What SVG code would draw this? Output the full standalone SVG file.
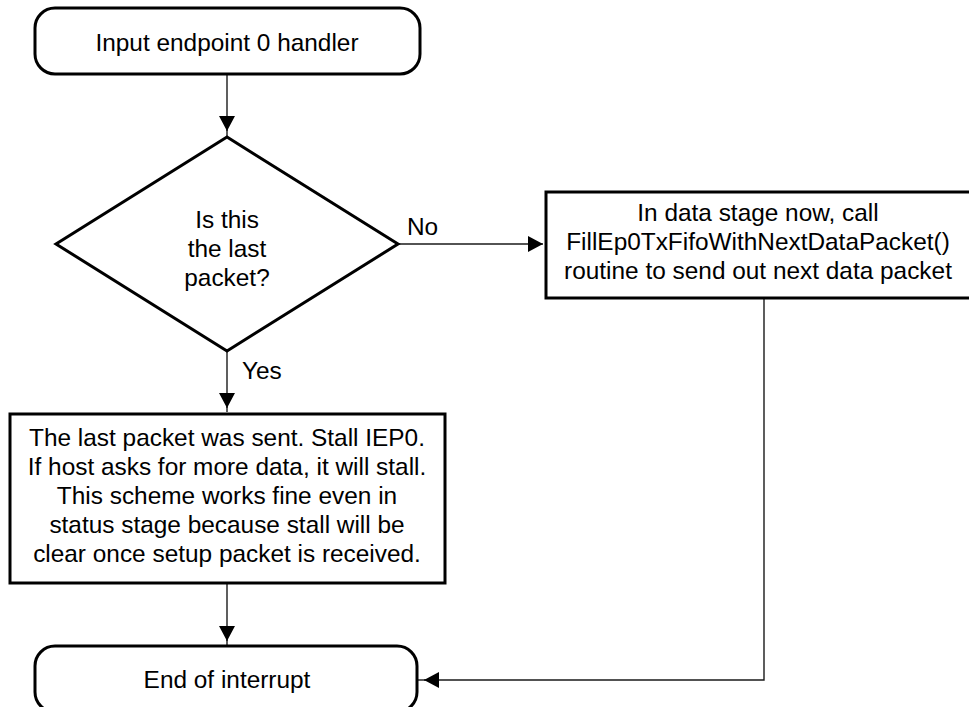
<svg xmlns="http://www.w3.org/2000/svg" width="969" height="707" viewBox="0 0 969 707">
  <style>
    .shape { fill: #ffffff; stroke: #000000; stroke-width: 3; stroke-linejoin: miter; }
    .term { fill: #ffffff; stroke: #000000; stroke-width: 3; }
    .label { font-family: "Liberation Sans", Arial, sans-serif; font-size: 24.4px; fill: #000000; text-anchor: middle; }
    .tag { font-family: "Liberation Sans", Arial, sans-serif; font-size: 24.4px; fill: #000000; }
    .wire { fill: none; stroke: #1a1a1a; stroke-width: 1.4; }
  </style>
  <defs>
    <marker id="arrow" viewBox="0 0 15 16" refX="15" refY="8" markerWidth="15" markerHeight="16" markerUnits="userSpaceOnUse" orient="auto">
      <path d="M0,0 L15,8 L0,16 Z" fill="#000000"/>
    </marker>
  </defs>

  <rect width="969" height="707" fill="#ffffff"/>

  <!-- connectors -->
  <g id="connectors">
    <path class="wire" d="M227,74 V131" marker-end="url(#arrow)"/>
    <path class="wire" d="M227,130 V137"/>
    <path class="wire" d="M227,351 V408" marker-end="url(#arrow)"/>
    <path class="wire" d="M227,407 V412"/>
    <path class="wire" d="M398,244 H543" marker-end="url(#arrow)"/>
    <path class="wire" d="M227,583 V641" marker-end="url(#arrow)"/>
    <path class="wire" d="M227,640 V646"/>
    <path class="wire" d="M764,298 V680 H424" marker-end="url(#arrow)"/>
    <path class="wire" d="M425,680 H418"/>
    <text class="tag" x="407" y="235">No</text>
    <text class="tag" x="242" y="379">Yes</text>
  </g>

  <!-- start terminal -->
  <g id="start">
    <rect class="term" x="35" y="8" width="385" height="66" rx="20" ry="20"/>
    <text class="label" x="227" y="51">Input endpoint 0 handler</text>
  </g>

  <!-- decision -->
  <g id="decision">
    <polygon class="shape" points="227,137 398,244 227,351 56,244"/>
    <text class="label" x="227" y="228">Is this</text>
    <text class="label" x="227" y="257">the last</text>
    <text class="label" x="227" y="286">packet?</text>
  </g>

  <!-- data stage process -->
  <g id="data-stage">
    <rect class="shape" x="546" y="192" width="428" height="106"/>
    <text class="label" x="758" y="221">In data stage now, call</text>
    <text class="label" x="758" y="250">FillEp0TxFifoWithNextDataPacket()</text>
    <text class="label" x="758" y="279">routine to send out next data packet</text>
  </g>

  <!-- last packet process -->
  <g id="last-packet">
    <rect class="shape" x="10" y="414" width="435" height="169"/>
    <text class="label" x="227" y="446">The last packet was sent. Stall IEP0.</text>
    <text class="label" x="227" y="475">If host asks for more data, it will stall.</text>
    <text class="label" x="227" y="504">This scheme works fine even in</text>
    <text class="label" x="227" y="533">status stage because stall will be</text>
    <text class="label" x="227" y="562">clear once setup packet is received.</text>
  </g>

  <!-- end terminal -->
  <g id="end">
    <rect class="term" x="35" y="646" width="382" height="66" rx="20" ry="20"/>
    <text class="label" x="227" y="688">End of interrupt</text>
  </g>
</svg>
